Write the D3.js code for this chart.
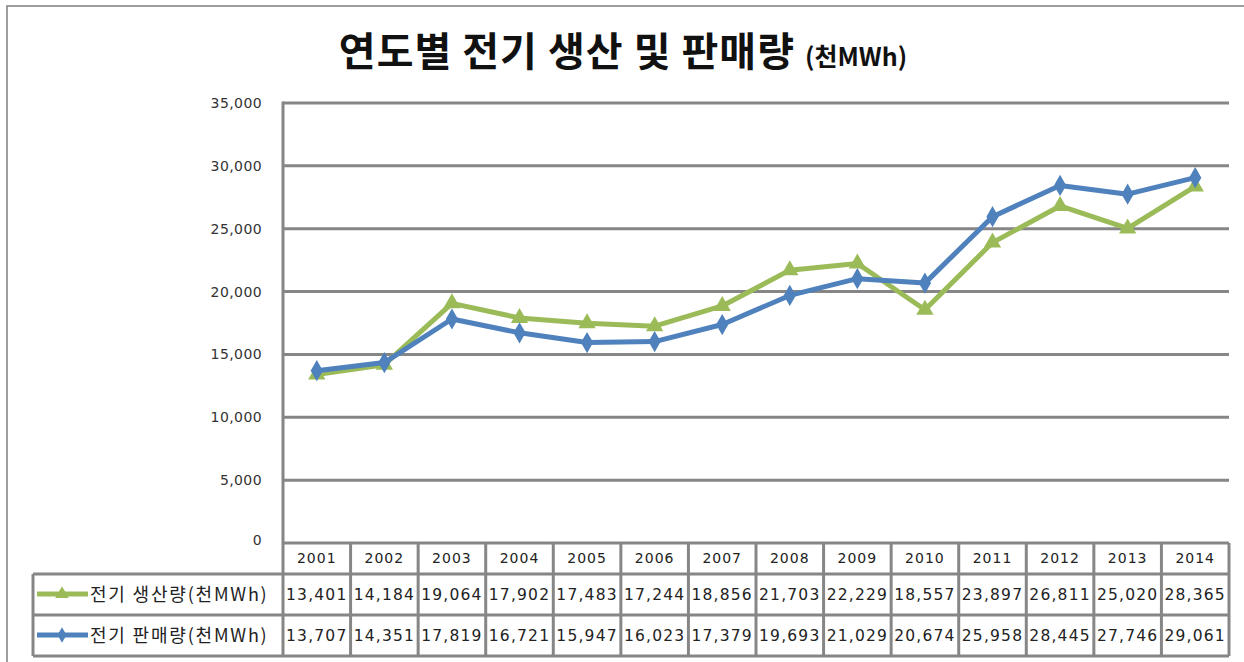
<!DOCTYPE html>
<html>
<head>
<meta charset="utf-8">
<script src="https://cdn.jsdelivr.net/npm/d3@7"></script>
<style>
  body { margin: 0; background: #fff; }
  svg { display: block; }
</style>
</head>
<body>
<script>
const years = ["2001","2002","2003","2004","2005","2006","2007","2008","2009","2010","2011","2012","2013","2014"];
const production = [13401,14184,19064,17902,17483,17244,18856,21703,22229,18557,23897,26811,25020,28365];
const sales = [13707,14351,17819,16721,15947,16023,17379,19693,21029,20674,25958,28445,27746,29061];
const seriesNames = ["전기 생산량(천MWh)", "전기 판매량(천MWh)"];
const yTicks = [0,5000,10000,15000,20000,25000,30000,35000];

const width = 1244, height = 662;
const plotLeft = 283, plotRight = 1229, plotTop = 103, plotBottom = 543;
const gridColor = "#868686";
const colors = ["#9bbb59", "#4f81bd"];

const svg = d3.select("body").append("svg")
  .attr("width", width).attr("height", height);

// outer frame
svg.append("rect").attr("x", 7).attr("y", 6).attr("width", 1260).attr("height", 700)
  .attr("fill", "none").attr("stroke", "#7f7f7f").attr("stroke-width", 1.5);

// title
const title = svg.append("text")
  .attr("x", 623).attr("y", 66)
  .attr("text-anchor", "middle")
  .attr("font-family", "'Noto Sans CJK KR', sans-serif")
  .attr("font-weight", "bold")
  .attr("fill", "#111");
title.append("tspan").attr("font-size", 40).attr("letter-spacing", 1).text("연도별 전기 생산 및 판매량 ");
title.append("tspan").attr("font-size", 25).text("(천MWh)");

let x = d3.scaleBand().domain(years).range([plotLeft, plotRight]);
let y = d3.scaleLinear().domain([0, 35000]).range([plotBottom, plotTop]);

// grid
svg.append("g").selectAll("line").data(yTicks.filter(d => d > 0)).enter()
  .append("line")
  .attr("x1", plotLeft).attr("x2", plotRight)
  .attr("y1", d => y(d)).attr("y2", d => y(d))
  .attr("stroke", gridColor).attr("stroke-width", 3);

svg.append("line").attr("x1", plotLeft).attr("x2", plotLeft).attr("y1", plotTop - 1.5).attr("y2", plotBottom)
  .attr("stroke", gridColor).attr("stroke-width", 3);

// y labels
svg.append("g").selectAll("text").data(yTicks).enter()
  .append("text")
  .attr("x", 262).attr("y", d => y(d) + (d == 0 ? 2 : 5))
  .attr("text-anchor", "end")
  .attr("font-family", "'DejaVu Sans', sans-serif")
  .attr("font-size", 14).attr("letter-spacing", 0.4)
  .attr("fill", "#333")
  .text(d => d3.format(",")(d));

// data table
const rowLines = [543, 574, 615, 656];
const cellFont = "'DejaVu Sans', sans-serif";
const table = svg.append("g");
// horizontal lines
table.selectAll(".hl").data(rowLines).enter().append("line")
  .attr("x1", (d, i) => i == 0 ? plotLeft : 33).attr("x2", plotRight)
  .attr("y1", d => d).attr("y2", d => d)
  .attr("stroke", gridColor).attr("stroke-width", 3);
// vertical lines
table.selectAll(".vl").data(years.map(d => x(d)).concat([plotRight])).enter().append("line")
  .attr("x1", d => d).attr("x2", d => d)
  .attr("y1", rowLines[0]).attr("y2", rowLines[3])
  .attr("stroke", gridColor).attr("stroke-width", 3);
table.append("line").attr("x1", 33).attr("x2", 33).attr("y1", rowLines[1]).attr("y2", rowLines[3])
  .attr("stroke", gridColor).attr("stroke-width", 3);

table.selectAll(".yr").data(years).enter().append("text")
  .attr("x", d => x(d) + x.bandwidth() / 2).attr("y", 563)
  .attr("text-anchor", "middle")
  .attr("font-family", cellFont).attr("font-size", 14).attr("letter-spacing", 1)
  .attr("fill", "#222")
  .text(d => d);

[production, sales].forEach((vals, r) => {
  table.selectAll(".v" + r).data(vals).enter().append("text")
    .attr("x", (d, i) => x(years[i]) + x.bandwidth() / 2).attr("y", [600, 641][r])
    .attr("text-anchor", "middle")
    .attr("font-family", cellFont).attr("font-size", 15.5).attr("letter-spacing", 1.2)
    .attr("fill", "#222")
    .text(d => d3.format(",")(d));
});

// legend keys
const keyY = [594, 635];
seriesNames.forEach((name, r) => {
  table.append("line").attr("x1", 37).attr("x2", 88).attr("y1", keyY[r]).attr("y2", keyY[r])
    .attr("stroke", colors[r]).attr("stroke-width", 5);
  table.append("path")
    .attr("transform", "translate(62," + keyY[r] + ")")
    .attr("d", d3.symbol().type(r == 0 ? d3.symbolTriangle : d3.symbolDiamond).size(r == 0 ? 80 : 70)())
    .attr("fill", colors[r]);
  table.append("text").attr("x", 90).attr("y", keyY[r] + 7)
    .attr("font-family", "'Noto Sans CJK KR', sans-serif").attr("font-size", 18)
    .attr("letter-spacing", 1.8)
    .attr("fill", "#222")
    .text(name);
});

// series lines
const line = d3.line()
  .x((d, i) => x(years[i]) + x.bandwidth() / 2)
  .y(d => y(d));

[production, sales].forEach((vals, r) => {
  svg.append("path").datum(vals)
    .attr("d", line)
    .attr("fill", "none").attr("stroke", colors[r]).attr("stroke-width", 5)
    .attr("stroke-linejoin", "round");
  svg.append("g").selectAll("path").data(vals).enter().append("path")
    .attr("transform", (d, i) => "translate(" + (x(years[i]) + x.bandwidth() / 2) + "," + y(d) + ")")
    .attr("d", d3.symbol().type(r == 0 ? d3.symbolTriangle : d3.symbolDiamond).size(130)())
    .attr("fill", colors[r]);
});
</script>
</body>
</html>
